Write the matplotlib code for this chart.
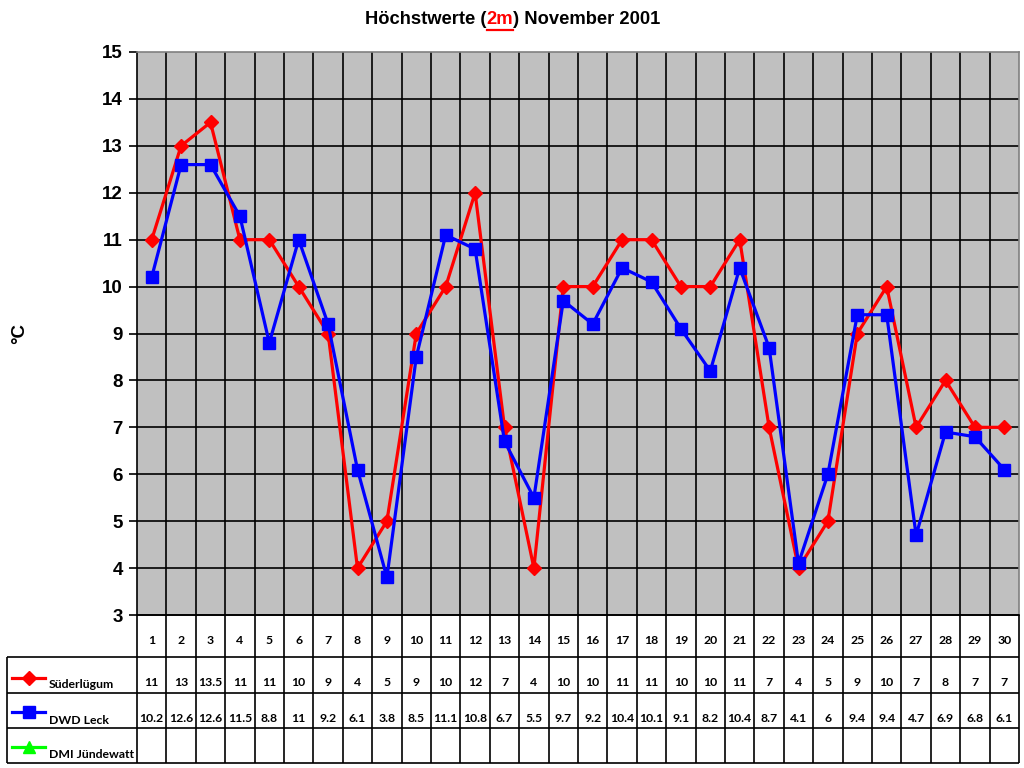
import matplotlib
matplotlib.use("Agg")
import matplotlib.pyplot as plt
from matplotlib.lines import Line2D

days = list(range(1, 31))
suederluegum = [11, 13, 13.5, 11, 11, 10, 9, 4, 5, 9, 10, 12, 7, 4, 10, 10, 11, 11, 10, 10,
                11, 7, 4, 5, 9, 10, 7, 8, 7, 7]
dwd_leck = [10.2, 12.6, 12.6, 11.5, 8.8, 11, 9.2, 6.1, 3.8, 8.5, 11.1, 10.8, 6.7, 5.5, 9.7,
            9.2, 10.4, 10.1, 9.1, 8.2, 10.4, 8.7, 4.1, 6, 9.4, 9.4, 4.7, 6.9, 6.8, 6.1]
dmi_juendewatt = []
series_names = ["Süderlügum", "DWD Leck", "DMI Jündewatt"]
yticks = list(range(3, 16))

W, H = 1024, 768
fig = plt.figure(figsize=(W / 100, H / 100), dpi=100)

L, R, T, B = 137, 1019, 52, 615
ax = fig.add_axes([L / W, 1 - B / H, (R - L) / W, (B - T) / H])
ax.set_facecolor("#C0C0C0")
n = len(days)
ax.set_xlim(0, n)
ax.set_ylim(3, 15)
xs = [i + 0.5 for i in range(n)]

for k in range(1, n):
    ax.axvline(k, color="black", lw=1.2, zorder=1)
for y in yticks[1:-1]:
    ax.axhline(y, color="black", lw=1.2, zorder=1)

ax.plot(xs, suederluegum, color="#FF0000", lw=2.3, marker="D", ms=7.5, zorder=3)
ax.plot(xs[:len(dwd_leck)], dwd_leck, color="#0000FF", lw=2.3, marker="s", ms=8.5, zorder=4)

ax.set_xticks([])
ax.set_yticks(yticks)
ax.set_yticklabels([str(v) for v in yticks], fontsize=13.5, fontweight="bold", family="Liberation Sans")
ax.tick_params(axis="y", length=6, width=1.2, color="black", pad=4)
for s in ["top", "right"]:
    ax.spines[s].set_color("#808080")
    ax.spines[s].set_linewidth(1.2)
ax.spines["left"].set_color("black")
ax.spines["left"].set_linewidth(1.2)
ax.spines["bottom"].set_color("black")
ax.spines["bottom"].set_linewidth(1.2)

fig.text(20 / W, 1 - 333 / H, "°C", rotation=90, fontsize=13.5, fontweight="bold",
         family="Liberation Sans", ha="center", va="center")

# Title with red underlined "2m"
parts = [("Höchstwerte (", "black"), ("2m", "#FF0000"), (") November 2001", "black")]
fig.canvas.draw()
renderer = fig.canvas.get_renderer()
texts = []
widths = []
for s, c in parts:
    t = fig.text(0, 1 - 20 / H, s, fontsize=13.2, fontweight="bold", family="Liberation Sans",
                 color=c, ha="left", va="center")
    bb = t.get_window_extent(renderer)
    widths.append(bb.width)
    texts.append(t)
total = sum(widths)
x0 = 513 - total / 2
for t, w in zip(texts, widths):
    t.set_x(x0 / W)
    x0 += w
ux0 = (513 - total / 2 + widths[0]) / W
ux1 = (513 - total / 2 + widths[0] + widths[1]) / W
fig.add_artist(Line2D([ux0, ux1], [1 - 30 / H, 1 - 30 / H], color="#FF0000", lw=1.6))

# Data table
tb_top, tb_bot = 615, 763
row_lines = [615, 657, 693, 728, 763]
leg_left = 7
tax = fig.add_axes([L / W, 1 - tb_bot / H, (R - L) / W, (tb_bot - tb_top) / H])
tax.set_xlim(0, n)
tax.set_ylim(tb_bot, tb_top)
tax.axis("off")

def fx(px):
    return (px - L) / (R - L) * n

lk = dict(color="black", lw=1.2, clip_on=False, solid_capstyle="butt")
tax.plot([0, n], [row_lines[0], row_lines[0]], **lk)
for yl in row_lines[1:]:
    tax.plot([fx(leg_left), n], [yl, yl], **lk)
for k in range(0, n + 1):
    tax.plot([k, k], [tb_top, tb_bot], **lk)
tax.plot([fx(leg_left), fx(leg_left)], [row_lines[1], tb_bot], **lk)

TF = "Lato"
tfont = dict(fontsize=8.8, fontweight="bold", family=TF, ha="center", va="center")
for i, d in enumerate(days):
    tax.text(i + 0.5, 641, str(d), **tfont)
rows = [suederluegum, dwd_leck, dmi_juendewatt]
row_text_y = [683, 718, 753]
for vals, ty in zip(rows, row_text_y):
    for i, v in enumerate(vals):
        tax.text(i + 0.5, ty, f"{v:g}", **tfont)

styles = [("#FF0000", "D", 7.5), ("#0000FF", "s", 8.5), ("#00FF00", "^", 8.5)]
key_y = [678, 712, 747]
for (c, m, ms), name, ty, ky in zip(styles, series_names, row_text_y, key_y):
    tax.plot([fx(12), fx(45)], [ky, ky], color=c, lw=2.3, clip_on=False)
    tax.plot([fx(28.5)], [ky], marker=m, color=c, ms=ms, clip_on=False)
    tax.text(fx(49), ty + 2, name, fontsize=8.8, fontweight="bold", family=TF,
             ha="left", va="center")

fig.savefig("out.png", dpi=100)
